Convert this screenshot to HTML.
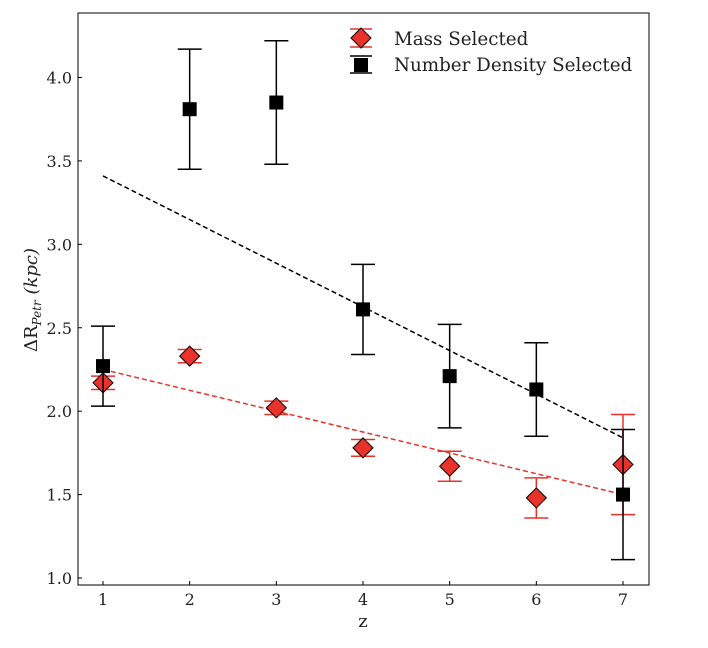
<!DOCTYPE html>
<html><head><meta charset="utf-8"><style>
body{margin:0;background:#fff;}
svg{display:block;font-family:"DejaVu Serif","Liberation Serif",serif;}
</style></head><body>
<svg id="c" width="708" height="648"></svg>
<script>
const xs=[1,2,3,4,5,6,7];
const massVals=[2.17,2.33,2.02,1.78,1.67,1.48,1.68];
const massErr=[0.04,0.04,0.04,0.05,0.09,0.12,0.30];
const numVals=[2.27,3.81,3.85,2.61,2.21,2.13,1.50];
const numErr=[0.24,0.36,0.37,0.27,0.31,0.28,0.39];
const massFit=[2.25,1.50];
const numFit=[3.41,1.84];
const xTicks=[1,2,3,4,5,6,7];
const yTicks=[1.0,1.5,2.0,2.5,3.0,3.5,4.0];
const L=78,R=649,T=13,B=585;
const X=v=>103+(v-1)*86.667;
const Y=v=>578-(v-1)*166.833;
const svg=document.getElementById('c');
const NS='http://www.w3.org/2000/svg';
function mk(tag,attrs,parent){const e=document.createElementNS(NS,tag);for(const k in attrs)e.setAttribute(k,attrs[k]);(parent||svg).appendChild(e);return e;}
xTicks.forEach(t=>{
 const l=mk('line',{x1:X(t),x2:X(t),y1:B,y2:B-4,stroke:'#000','stroke-width':1});
 
 const tx=mk('text',{x:X(t),y:B+20,'text-anchor':'middle','font-size':16,fill:'#222'});tx.textContent=t;
 
});
yTicks.forEach(t=>{
 const l=mk('line',{x1:L,x2:L+4,y1:Y(t),y2:Y(t),stroke:'#000','stroke-width':1});
 
 const tx=mk('text',{x:L-6,y:Y(t)+6,'text-anchor':'end','font-size':16,fill:'#222'});tx.textContent=t.toFixed(1);
 
});
const fr=mk('line',{x1:X(1),y1:Y(massFit[0]),x2:X(7),y2:Y(massFit[1]),stroke:'#e8322a','stroke-width':1.5,'stroke-dasharray':'5,3'});

const fb=mk('line',{x1:X(1),y1:Y(numFit[0]),x2:X(7),y2:Y(numFit[1]),stroke:'#000','stroke-width':1.5,'stroke-dasharray':'5,3'});

function errbar(x,v,e,col,name){
 const g=mk('g',{});
 mk('line',{x1:X(x),x2:X(x),y1:Y(v+e),y2:Y(v-e),stroke:col,'stroke-width':1.5},g);
 mk('line',{x1:X(x)-12,x2:X(x)+12,y1:Y(v+e),y2:Y(v+e),stroke:col,'stroke-width':1.5},g);
 mk('line',{x1:X(x)-12,x2:X(x)+12,y1:Y(v-e),y2:Y(v-e),stroke:col,'stroke-width':1.5},g);
}
xs.forEach((x,i)=>{
 errbar(x,massVals[i],massErr[i],'#e8322a','mass-errorbar');
 const cx=X(x),cy=Y(massVals[i]);
 const d=mk('polygon',{points:`${cx},${cy-10} ${cx+10},${cy} ${cx},${cy+10} ${cx-10},${cy}`,fill:'#e8322a',stroke:'#000','stroke-width':1});
 
});
xs.forEach((x,i)=>{
 errbar(x,numVals[i],numErr[i],'#000','number-errorbar');
 const s=mk('rect',{x:X(x)-7,y:Y(numVals[i])-7,width:14,height:14,fill:'#000'});
 
});
const fr2=mk('rect',{x:L,y:T,width:R-L,height:B-T,fill:'none',stroke:'#000','stroke-width':1});

const lg=mk('g',{});
mk('line',{x1:350,x2:372,y1:29,y2:29,stroke:'#e8322a','stroke-width':1.5},lg);
mk('line',{x1:350,x2:372,y1:47,y2:47,stroke:'#e8322a','stroke-width':1.5},lg);
mk('polygon',{points:'361,28 371,38 361,48 351,38',fill:'#e8322a',stroke:'#000','stroke-width':1},lg);
mk('line',{x1:350,x2:372,y1:56,y2:56,stroke:'#000','stroke-width':1.5},lg);
mk('line',{x1:350,x2:372,y1:73,y2:73,stroke:'#000','stroke-width':1.5},lg);
mk('rect',{x:354,y:58,width:14,height:14,fill:'#000'},lg);
const t1=mk('text',{x:394,y:45,'font-size':18.3,fill:'#222'},lg);t1.textContent='Mass Selected';

const t2=mk('text',{x:394,y:71,'font-size':18.3,fill:'#222'},lg);t2.textContent='Number Density Selected';

const xt=mk('text',{x:363,y:627,'text-anchor':'middle','font-size':18,fill:'#222'});xt.textContent='z';

const yt=mk('text',{x:0,y:0,'text-anchor':'middle','font-size':18,fill:'#222',transform:'translate(37,300) rotate(-90)'});
yt.innerHTML='ΔR<tspan font-size="12" font-style="italic" dy="4">Petr</tspan><tspan dy="-4" font-style="italic"> (kpc)</tspan>';

</script>
</body></html>
